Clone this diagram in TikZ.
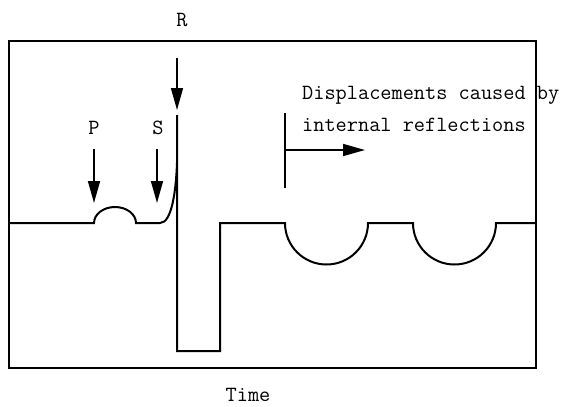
\documentclass[tikz,border=0pt]{standalone}
\usetikzlibrary{arrows.meta}
\begin{document}
\begin{tikzpicture}[x=1pt,y=-1pt,
  wave/.style={line width=2pt,line join=miter},
  frame/.style={line width=2pt},
  pointer/.style={line width=1.6pt,-{Triangle[length=22pt,width=12pt]}},
  lbl/.style={font=\fontsize{21.7}{24}\selectfont\ttfamily,inner sep=0pt,text=black}]
\useasboundingbox (0,0) rectangle (566,407);
\fill[white] (0,0) rectangle (566,407);
% frame
\draw[frame] (9,41) rectangle (536,368);
% waveform
\draw[wave] (9,223) -- (94,223)
  arc[start angle=180,end angle=360,x radius=21,y radius=16] -- (160,223)
  .. controls (172,223) and (176,190) .. (177,163);
\draw[wave] (177,115) -- (177,351) -- (220,351) -- (220,223) -- (285,223)
  arc[start angle=180,end angle=0,radius=41.5] -- (413,223)
  arc[start angle=180,end angle=0,radius=41.5] -- (536,223);
% labels
\node[lbl] (R) at (182,20) {R};
\node[lbl] (P) at (94,128) {P};
\node[lbl] (S) at (158,128) {S};
\node[lbl] (T) at (248,395) {Time};
\node[lbl,anchor=west] (D1) at (302,95) {Displacements caused by};
\node[lbl,anchor=west] (D2) at (302,125) {internal reflections};
% arrows
\coordinate (Rs) at (177,58);  \coordinate (Rt) at (177,110);
\coordinate (Ps) at (94,149);  \coordinate (Pt) at (94,203);
\coordinate (Ss) at (157,149); \coordinate (St) at (157,203);
\draw[pointer] (Rs) -- (Rt);
\draw[pointer] (Ps) -- (Pt);
\draw[pointer] (Ss) -- (St);
% bracket arrow
\coordinate (Bt) at (285,113); \coordinate (Bb) at (285,188);
\coordinate (Bm) at (285,150); \coordinate (Be) at (365,150);
\draw[line width=2pt] (Bt) -- (Bb);
\draw[pointer] (Bm) -- (Be);
\end{tikzpicture}
\end{document}
